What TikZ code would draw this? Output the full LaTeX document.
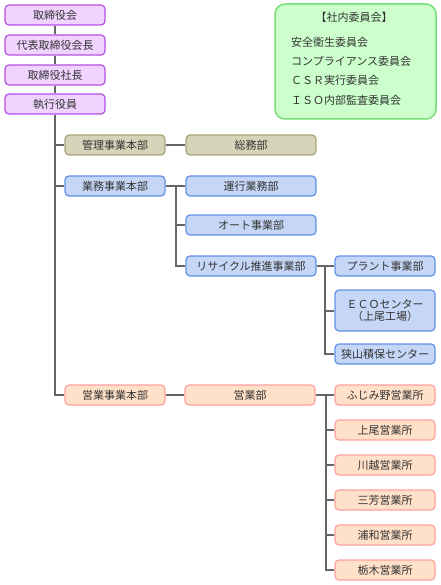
\documentclass[tikz,border=0pt]{standalone}
\usepackage{fontspec}
\newfontfamily\jp{Noto Sans CJK JP}
\definecolor{purpfill}{RGB}{240, 212, 255}
\definecolor{purpline}{RGB}{180, 80, 224}
\definecolor{olvfill}{RGB}{214, 212, 184}
\definecolor{olvline}{RGB}{168, 164, 122}
\definecolor{blufill}{RGB}{198, 214, 246}
\definecolor{bluline}{RGB}{96, 144, 232}
\definecolor{salfill}{RGB}{255, 224, 200}
\definecolor{salline}{RGB}{255, 160, 160}
\definecolor{grnfill}{RGB}{204, 255, 204}
\definecolor{grnline}{RGB}{119, 221, 119}
\definecolor{txtgray}{RGB}{51, 51, 51}
\definecolor{lngray}{RGB}{102, 102, 102}
\usetikzlibrary{positioning}

\begin{document}
\begin{tikzpicture}[x=1pt, y=-1pt,
  bx/.style={rectangle, rounded corners=4pt, line width=1.2pt, minimum height=20pt, inner sep=0pt, font=\jp\fontsize{11}{13}\selectfont, text=txtgray},
  purp/.style={bx, draw=purpline, fill=purpfill, minimum width=100pt},
  olv/.style={bx, draw=olvline, fill=olvfill},
  blu/.style={bx, draw=bluline, fill=blufill},
  sal/.style={bx, draw=salline, fill=salfill},
  ln/.style={line width=2pt, lngray},
  cmtxt/.style={anchor=west, inner sep=0pt, font=\jp\fontsize{11}{13}\selectfont, text=txtgray},
]
  \useasboundingbox (0,0) rectangle (440,585);

  % top management
  \node[purp] (torishimari) at (55, 15) {取締役会};
  \node[purp] (kaicho) at (55, 45) {代表取締役会長};
  \node[purp] (shacho) at (55, 75) {取締役社長};
  \node[purp] (yakuin) at (55, 104) {執行役員};
  \draw[ln] (torishimari) -- (kaicho);
  \draw[ln] (kaicho) -- (shacho);
  \draw[ln] (shacho) -- (yakuin);

  % committees
  \node[rectangle, rounded corners=10pt, line width=1.5pt, draw=grnline, fill=grnfill, minimum width=161pt, minimum height=115pt] (iinkai) at (355.5, 61.5) {};
  \node[font=\jp\fontsize{11}{13}\selectfont, text=txtgray, inner sep=0pt] (iinkaititle) at (354, 17) {【社内委員会】};
  \node[cmtxt] (anzen) at (291, 42) {安全衛生委員会};
  \node[cmtxt] (compliance) at (291, 61) {コンプライアンス委員会};
  \node[cmtxt] (csr) at (291, 80) {ＣＳＲ実行委員会};
  \node[cmtxt] (iso) at (291, 100) {ＩＳＯ内部監査委員会};

  % divisions
  \node[olv, minimum width=100pt] (kanri) at (115, 145) {管理事業本部};
  \node[olv, minimum width=130pt] (somu) at (251, 145) {総務部};
  \node[blu, minimum width=100pt] (gyomu) at (115, 186) {業務事業本部};
  \node[blu, minimum width=130pt] (unko) at (251, 186) {運行業務部};
  \node[blu, minimum width=130pt] (auto) at (251, 225) {オート事業部};
  \node[blu, minimum width=130pt] (recycle) at (251, 266) {リサイクル推進事業部};
  \node[blu, minimum width=100pt] (plant) at (385, 266) {プラント事業部};
  \node[blu, minimum width=100pt, minimum height=41pt, align=center, font=\jp\fontsize{11}{12}\selectfont] (eco) at (385, 310.5) {ＥＣＯセンター\\（上尾工場）};
  \node[blu, minimum width=100pt] (sayama) at (385, 354) {狭山積保センター};
  \node[sal, minimum width=100pt] (eigyo) at (115, 395) {営業事業本部};
  \node[sal, minimum width=130pt] (eigyobu) at (250, 395) {営業部};
  \node[sal, minimum width=100pt] (fujimino) at (385, 395) {ふじみ野営業所};
  \node[sal, minimum width=100pt] (ageo) at (385, 430) {上尾営業所};
  \node[sal, minimum width=100pt] (kawagoe) at (385, 465) {川越営業所};
  \node[sal, minimum width=100pt] (miyoshi) at (385, 500) {三芳営業所};
  \node[sal, minimum width=100pt] (urawa) at (385, 535) {浦和営業所};
  \node[sal, minimum width=100pt] (tochigi) at (385, 570) {栃木営業所};

  % branch points
  \coordinate (gb) at (176, 186);
  \coordinate (rb) at (325, 266);
  \coordinate (eb) at (326, 395);

  \draw[ln] (yakuin.south) |- (eigyo.west);
  \draw[ln] (yakuin.south) |- (kanri.west);
  \draw[ln] (yakuin.south) |- (gyomu.west);
  \draw[ln] (kanri) -- (somu);
  \draw[ln] (gyomu) -- (unko);
  \draw[ln] (gb) |- (auto.west);
  \draw[ln] (gb) |- (recycle.west);
  \draw[ln] (recycle) -- (plant);
  \draw[ln] (rb) |- (eco.west);
  \draw[ln] (rb) |- (sayama.west);
  \draw[ln] (eigyo) -- (eigyobu);
  \draw[ln] (eigyobu) -- (fujimino);
  \foreach \n in {ageo, kawagoe, miyoshi, urawa, tochigi}
    \draw[ln] (eb) |- (\n.west);
\end{tikzpicture}
\end{document}
